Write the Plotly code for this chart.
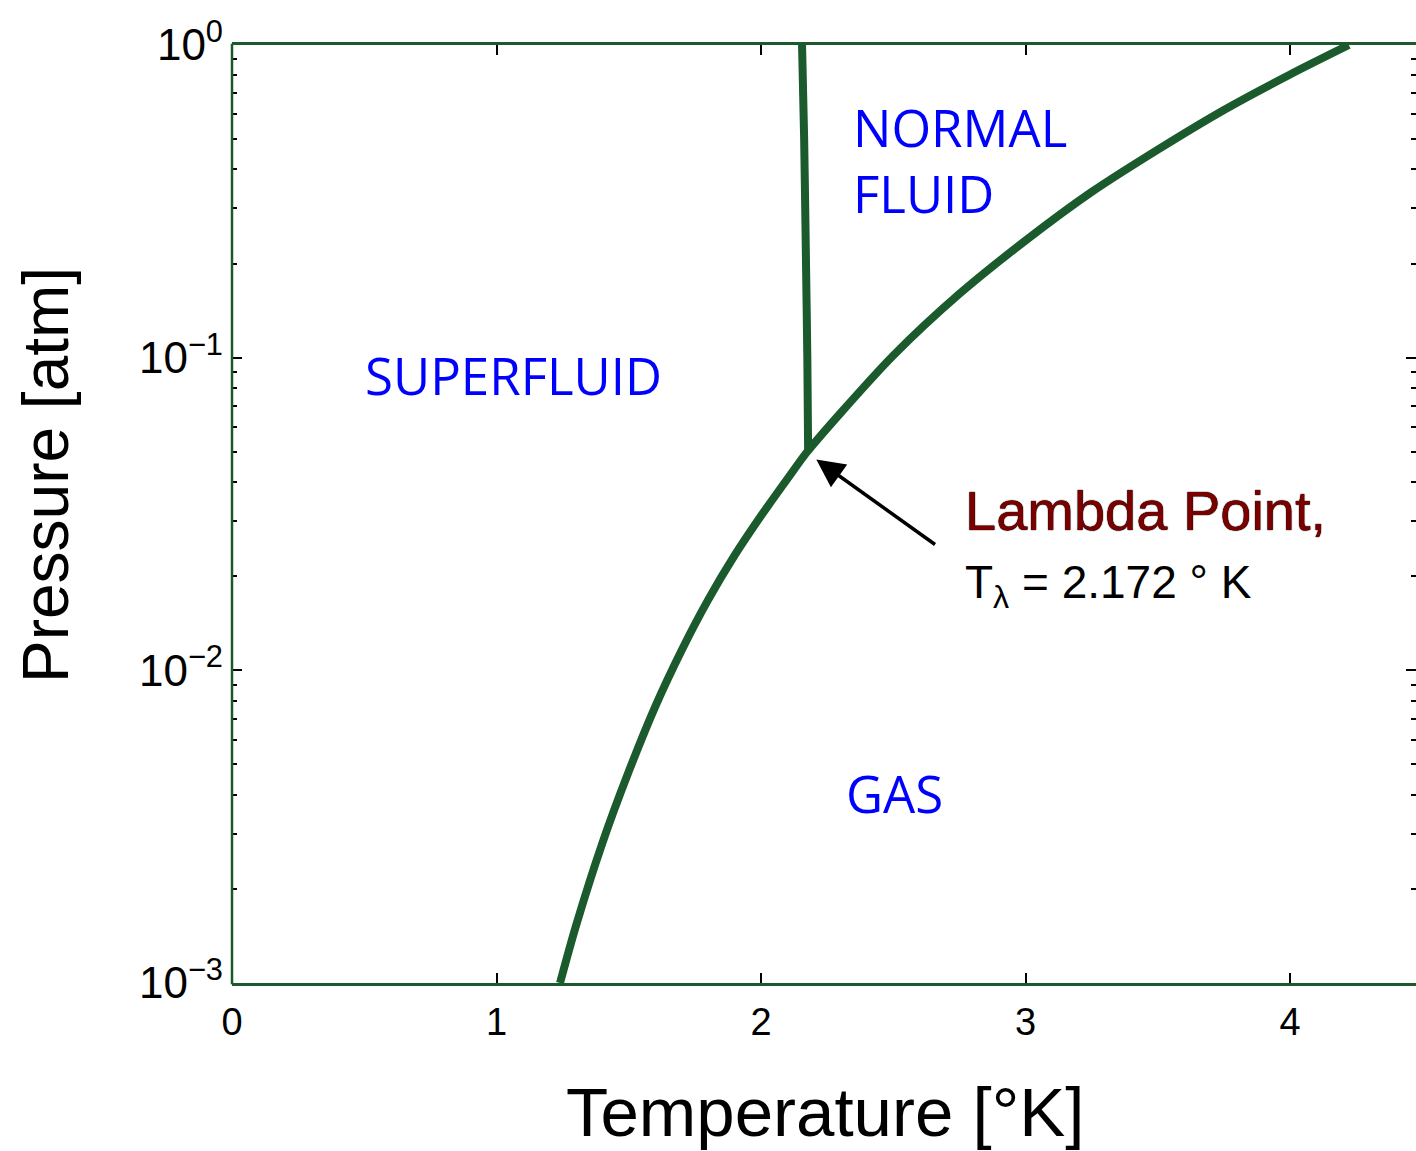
import plotly.graph_objects as go

# Vapour-pressure curve (He-4)
vap_T = [1.24, 1.30, 1.40, 1.50, 1.60, 1.70, 1.80, 1.90, 2.00, 2.10, 2.172, 2.30, 2.50, 2.75, 3.00, 3.25, 3.50, 3.75, 4.00, 4.222]
vap_P = [0.00100, 0.00152, 0.00280, 0.00475, 0.00766, 0.0116, 0.0168, 0.0233, 0.0312, 0.0410, 0.0497,
         0.0664, 0.1016, 0.160, 0.237, 0.339, 0.463, 0.620, 0.805, 1.0]

# Lambda line
lam_T = [2.178, 2.175, 2.170, 2.163, 2.155]
lam_P = [0.0499, 0.1, 0.2, 0.5, 1.0]

# Lambda point
lp_T = 2.172
lp_P = 0.0497

x_ticks = [0, 1, 2, 3, 4]
y_ticks = [1e-3, 1e-2, 1e-1, 1]
y_ticktext = ["10<sup>−3</sup>", "10<sup>−2</sup>", "10<sup>−1</sup>", "10<sup>0</sup>"]
y_minor = [m * 10 ** e for e in (-3, -2, -1) for m in range(2, 10)]

GREEN = "rgb(26,90,45)"
FONT = "Liberation Sans, Arial, Helvetica, sans-serif"

fig = go.Figure()
fig.add_trace(go.Scatter(x=vap_T, y=vap_P, mode="lines", line=dict(color=GREEN, width=8, shape="spline", smoothing=0.8),
                         showlegend=False, hoverinfo="skip"))
fig.add_trace(go.Scatter(x=lam_T, y=lam_P, mode="lines", line=dict(color=GREEN, width=8, shape="spline", smoothing=0.6),
                         showlegend=False, hoverinfo="skip"))

W, H = 1416, 1151
L, R, T, B = 232, 0, 45, 168

fig.update_layout(
    width=W, height=H,
    margin=dict(l=L, r=R, t=T, b=B, pad=0),
    paper_bgcolor="white", plot_bgcolor="white",
    font=dict(family=FONT, color="black"),
    xaxis=dict(range=[0, 4.476], tickvals=x_ticks, ticktext=[str(v) for v in x_ticks],
               ticks="inside", ticklen=10, tickwidth=1.5, tickcolor="black",
               showline=True, linecolor=GREEN, linewidth=2.5, mirror="ticks",
               showgrid=False, zeroline=False, tickfont=dict(size=38, family=FONT),
               ticklabelstandoff=4),
    yaxis=dict(type="log", range=[-3, 0], tickvals=y_ticks, ticktext=y_ticktext,
               ticks="inside", ticklen=10, tickwidth=1.5, tickcolor="black",
               showline=False, mirror="ticks",
               showgrid=False, zeroline=False, tickfont=dict(size=44, family=FONT),
               ticklabelstandoff=8,
               minor=dict(tickvals=y_minor, ticks="inside", ticklen=5, tickwidth=1.5, tickcolor="black",
                          showgrid=False)),
    shapes=[dict(type="line", xref="paper", yref="paper", x0=0, x1=0, y0=-0.0013, y1=1.0013,
                 line=dict(color=GREEN, width=2.5))],
)

def px(xp):
    return (xp - L) / (W - L - R)

def py(yp):
    return (H - B - yp) / (H - T - B)

# axis titles
fig.add_annotation(text="Temperature [°K]", xref="paper", yref="paper", x=px(825), y=py(1112),
                   showarrow=False, font=dict(size=69, family=FONT, color="black"),
                   xanchor="center", yanchor="middle")
fig.add_annotation(text="Pressure [atm]", xref="paper", yref="paper", x=px(46), y=py(475),
                   showarrow=False, textangle=-90, font=dict(size=64, family=FONT, color="black"),
                   xanchor="center", yanchor="middle")

BLUE_FONT = dict(size=51, family="Open Sans, Noto Sans, sans-serif", color="#0000ff")
fig.add_annotation(text="SUPERFLUID", x=0.495, y=-1.055, xref="x", yref="y", showarrow=False,
                   xanchor="left", yanchor="middle", font=BLUE_FONT)
fig.add_annotation(text="NORMAL<br>FLUID", x=2.340, y=-0.368, xref="x", yref="y", showarrow=False,
                   xanchor="left", yanchor="middle", align="left", font=BLUE_FONT)
fig.add_annotation(text="GAS", x=2.312, y=-2.392, xref="x", yref="y", showarrow=False,
                   xanchor="left", yanchor="middle", font=BLUE_FONT)

# arrow to lambda point
fig.add_annotation(x=lp_T, y=-1.3035, xref="x", yref="y", text="", showarrow=True,
                   ax=130, ay=93, arrowhead=2, arrowsize=1.6, arrowwidth=3.5, arrowcolor="black",
                   standoff=12)
fig.add_annotation(text="Lambda Point,", x=px(963), y=py(510), xref="paper", yref="paper",
                   showarrow=False, xanchor="left", yanchor="middle",
                   font=dict(size=56, family=FONT, color="#7a0000",
                             shadow="0 0 1px #000, 0 0 1px #000"))
fig.add_annotation(text="T<sub>λ</sub> = 2.172 ° K", x=px(963), y=py(585), xref="paper", yref="paper",
                   showarrow=False, xanchor="left", yanchor="middle",
                   font=dict(size=46, family=FONT, color="black"))

fig.write_html("out.html")
